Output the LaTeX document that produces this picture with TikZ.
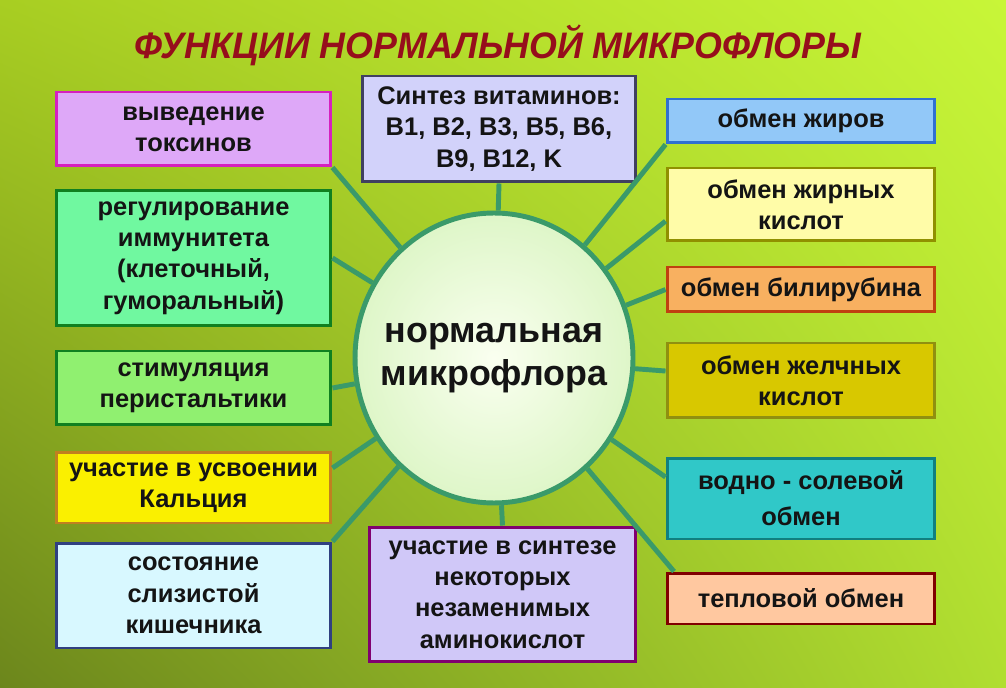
\documentclass[tikz,border=0pt]{standalone}
\usepackage{fontspec}
\setmainfont{Liberation Sans}
\newfontfamily\titlefont[FakeStretch=0.97]{Liberation Sans}
\usetikzlibrary{shapes.geometric, shadings}
\definecolor{bgtl}{RGB}{168,206,34}
\definecolor{bgtr}{RGB}{200,246,56}
\definecolor{bgbl}{RGB}{108,134,28}
\definecolor{bgbr}{RGB}{176,222,48}
\definecolor{titlered}{RGB}{150,14,28}
\definecolor{spokegreen}{RGB}{58,154,106}
\definecolor{circin}{RGB}{250,255,240}
\definecolor{circout}{RGB}{222,246,200}

\begin{document}
\begin{tikzpicture}[x=0.02cm, y=-0.02cm,
  card/.style={draw, rectangle, line width=1.7pt, inner sep=0pt, align=center, text=black!92,
    font=\bfseries\fontsize{14.5}{17.8}\selectfont},
  hub/.style={ellipse, draw=spokegreen, line width=2.8pt, inner sep=0pt,
    inner color=circin, outer color=circout,
    minimum width=5.56cm, minimum height=5.8cm},
  hubtext/.style={align=center, text=black!92, font=\bfseries\fontsize{20.4}{24.4}\selectfont},
  spoke/.style={draw=spokegreen, line width=2.8pt}]
  \shade[upper left=bgtl, upper right=bgtr, lower left=bgbl, lower right=bgbr]
    (0,0) rectangle (1006,688);

  \node[font=\titlefont\bfseries\itshape\fontsize{21}{24}\selectfont, text=titlered] (title) at (498,45)
    {ФУНКЦИИ НОРМАЛЬНОЙ МИКРОФЛОРЫ};

  \node[hub] (c) at (494,358) {};
  \node[hubtext] (ctext) at (c) {нормальная\\микрофлора};

  % left column
  \node[card, draw={rgb,255:red,214;green,32;blue,190}, fill={rgb,255:red,222;green,168;blue,248},
    minimum width=5.5cm, minimum height=1.48cm] (l1) at (193.5,129) {выведение\\токсинов};
  \node[card, draw={rgb,255:red,16;green,128;blue,32}, fill={rgb,255:red,112;green,248;blue,160},
    minimum width=5.5cm, minimum height=2.72cm] (l2) at (193.5,258)
    {регулирование\\иммунитета\\(клеточный,\\гуморальный)};
  \node[card, draw={rgb,255:red,16;green,128;blue,32}, fill={rgb,255:red,144;green,240;blue,112},
    minimum width=5.5cm, minimum height=1.48cm] (l3) at (193.5,388) {стимуляция\\перистальтики};
  \node[card, draw={rgb,255:red,192;green,128;blue,32}, fill={rgb,255:red,250;green,240;blue,0},
    minimum width=5.5cm, minimum height=1.42cm] (l4) at (193.5,487.5) {участие в усвоении\\Кальция};
  \node[card, draw={rgb,255:red,48;green,64;blue,128}, fill={rgb,255:red,216;green,248;blue,255},
    minimum width=5.5cm, minimum height=2.1cm] (l5) at (193.5,595.5) {состояние\\слизистой\\кишечника};

  % top and bottom
  \node[card, draw={rgb,255:red,64;green,64;blue,96}, fill={rgb,255:red,210;green,210;blue,250},
    minimum width=5.48cm, minimum height=2.12cm] (top) at (499,129)
    {Синтез витаминов:\\B1, B2, B3, B5, B6,\\B9, B12, K};
  \node[card, draw={rgb,255:red,128;green,0;blue,112}, fill={rgb,255:red,208;green,200;blue,248},
    minimum width=5.34cm, minimum height=2.7cm] (bot) at (502.5,594.5)
    {участие в синтезе\\некоторых\\незаменимых\\аминокислот};

  % right column
  \node[card, draw={rgb,255:red,48;green,112;blue,208}, fill={rgb,255:red,146;green,200;blue,248},
    minimum width=5.36cm, minimum height=0.88cm] (r1) at (801,121) {обмен жиров};
  \node[card, draw={rgb,255:red,144;green,144;blue,0}, fill={rgb,255:red,255;green,252;blue,168},
    minimum width=5.36cm, minimum height=1.46cm] (r2) at (801,204.5) {обмен жирных\\кислот};
  \node[card, draw={rgb,255:red,192;green,64;blue,16}, fill={rgb,255:red,248;green,176;blue,96},
    minimum width=5.36cm, minimum height=0.9cm] (r3) at (801,289.5) {обмен билирубина};
  \node[card, draw={rgb,255:red,144;green,144;blue,16}, fill={rgb,255:red,216;green,200;blue,0},
    minimum width=5.36cm, minimum height=1.5cm] (r4) at (801,380.5) {обмен желчных\\кислот};
  \node[card, draw={rgb,255:red,16;green,128;blue,128}, fill={rgb,255:red,48;green,200;blue,200},
    minimum width=5.36cm, minimum height=1.62cm, font=\bfseries\fontsize{14.5}{20.5}\selectfont]
    (r5) at (801,498.5) {водно - солевой\\обмен};
  \node[card, draw={rgb,255:red,128;green,0;blue,0}, fill={rgb,255:red,255;green,200;blue,160},
    minimum width=5.36cm, minimum height=1.02cm] (r6) at (801,598.5) {тепловой обмен};

  % spokes
  \draw[spoke] (l1.south east) -- (c);
  \draw[spoke] (l2.east) -- (c);
  \draw[spoke] (l3.east) -- (c);
  \draw[spoke] (l4.8) -- (c);
  \draw[spoke] (l5.north east) -- (c);
  \draw[spoke] (top.south) -- (c);
  \draw[spoke] (bot.north) -- (c);
  \draw[spoke] (r1.south west) -- (c);
  \draw[spoke] (r2.187) -- (c);
  \draw[spoke] (r3.west) -- (c);
  \draw[spoke] (r4.176) -- (c);
  \draw[spoke] (r5.171) -- (c);
  \draw[spoke] (r6.168) -- (c);
\end{tikzpicture}
\end{document}
